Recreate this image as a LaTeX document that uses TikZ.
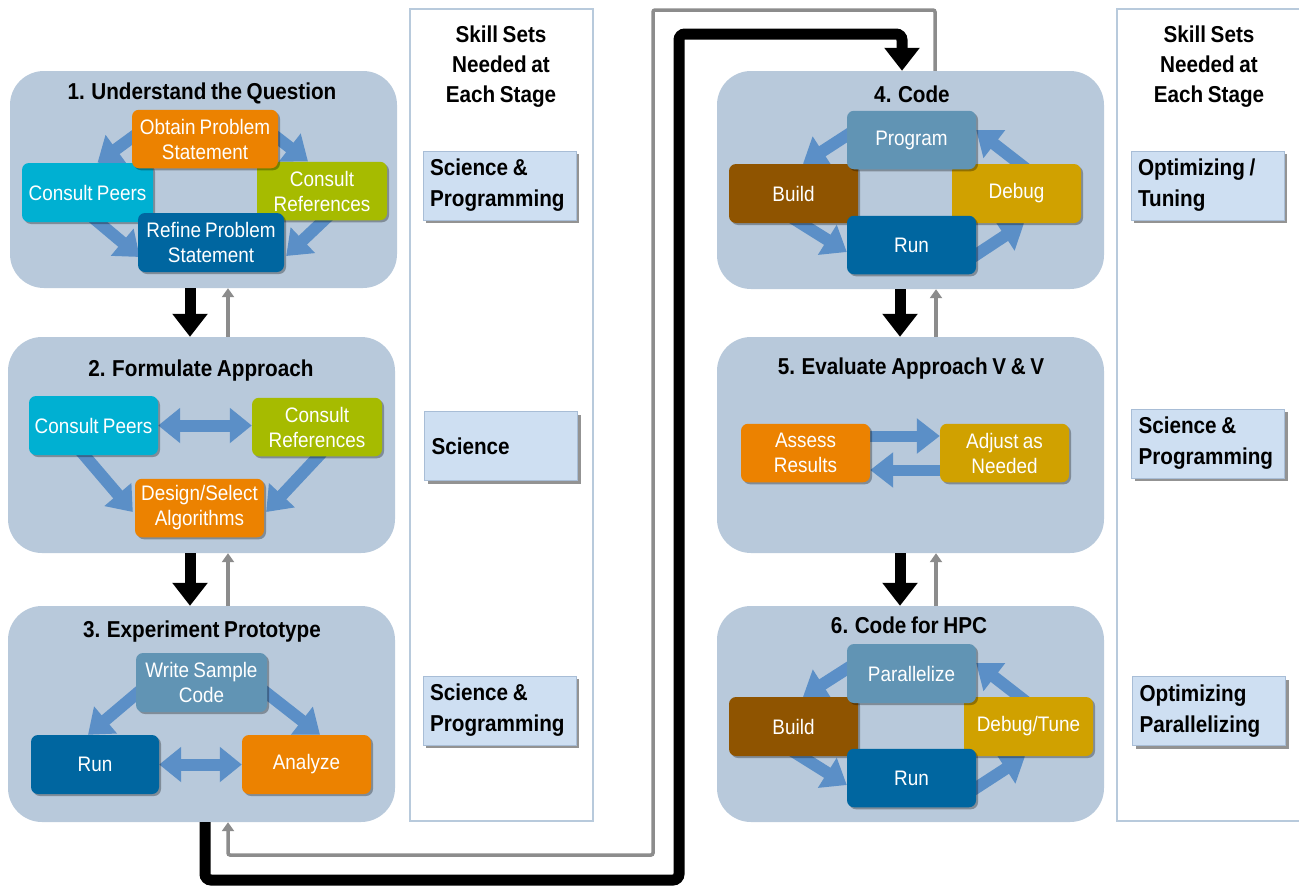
\documentclass[tikz,border=0pt]{standalone}
\usepackage{fontspec}
\setmainfont{Liberation Sans}[FakeStretch=0.9, WordSpace=0.8]
\usetikzlibrary{arrows.meta,shadows}

\definecolor{stagebg}{HTML}{B8C9DB}
\definecolor{arrowblue}{HTML}{5B8FC7}
\definecolor{cOrange}{HTML}{EC8200}
\definecolor{cCyan}{HTML}{00B0D2}
\definecolor{cGreen}{HTML}{A6BB00}
\definecolor{cDark}{HTML}{0066A0}
\definecolor{cSteel}{HTML}{6194B4}
\definecolor{cBrown}{HTML}{8F5400}
\definecolor{cGold}{HTML}{D0A100}
\definecolor{skillbg}{HTML}{CEDFF2}
\definecolor{skillborder}{HTML}{A8BDD6}
\definecolor{colborder}{HTML}{B8CADC}
\definecolor{backgrey}{HTML}{8C8C8C}

\pgfdeclarelayer{bg}
\pgfdeclarelayer{mid}
\pgfsetlayers{bg,mid,main}

\begin{document}
\begin{tikzpicture}[x=1pt,y=-1pt,
  stagebox/.style={fill=stagebg, rounded corners=34pt, draw=none, inner sep=0pt,
    minimum width=387pt, minimum height=216pt},
  steptitle/.style={font=\bfseries\fontsize{23}{28}\selectfont, anchor=base, inner sep=0pt},
  ibox/.style={rounded corners=7pt, text=white, align=center,
    font=\fontsize{21}{25}\selectfont, inner sep=0pt,
    minimum width=129pt, minimum height=58.5pt,
    drop shadow={shadow xshift=2pt, shadow yshift=-2pt, opacity=0.3, fill=black}},
  fat/.style={draw=arrowblue, line width=12pt, -{Triangle[width=34pt,length=23pt]}},
  fatboth/.style={draw=arrowblue, line width=12pt,
    {Triangle[width=34pt,length=22pt]}-{Triangle[width=34pt,length=22pt]}},
  flow/.style={draw=black, line width=11pt, -{Triangle[width=34pt,length=23pt]}},
  back/.style={draw=backgrey, line width=3.5pt, -{Triangle[width=12pt,length=9pt]}},
  column/.style={draw=colborder, line width=2pt, fill=white},
  header/.style={font=\bfseries\fontsize{23}{30}\selectfont, align=center, anchor=base, inner sep=0pt},
  skill/.style={fill=skillbg, draw=skillborder, line width=1pt,
    font=\bfseries\fontsize{23}{31}\selectfont, align=flush left,
    inner xsep=7pt, inner ysep=0pt, text width=139pt, minimum height=69pt,
    drop shadow={shadow xshift=3pt, shadow yshift=-3pt, opacity=0.6, fill=black!70}}
]
\useasboundingbox (0,0) rectangle (1299,886);

% ---------- page and skill set columns ----------
\begin{pgfonlayer}{bg}
  \fill[white] (0,0) rectangle (1299,886);
  \draw[column] (410,9) rectangle (593,821);
  \draw[column] (1117,9) rectangle (1320,821);
\end{pgfonlayer}
% the base anchor of a multi-line node is the baseline of its last line
\node[header] (hl) at (501,102) {Skill Sets\\Needed at\\Each Stage};
\node[header] (hr) at (1209,102) {Skill Sets\\Needed at\\Each Stage};

\node[skill] (l1) at (499.5,185.5) {Science \&\\Programming};
\node[skill] (l2) at (501,446) {Science};
\node[skill] (l3) at (499.5,710.5) {Science \&\\Programming};
\node[skill] (r1) at (1207.5,185.5) {Optimizing /\\Tuning};
\node[skill] (r2) at (1208,443.5) {Science \&\\Programming};
\node[skill] (r3) at (1209,711) {Optimizing\\Parallelizing};

% ---------- stage containers ----------
\begin{pgfonlayer}{bg}
  \node[stagebox, minimum height=217pt] (st1) at (203.5,179.5) {};
  \node[stagebox] (st2) at (201.5,445) {};
  \node[stagebox] (st3) at (201.5,714) {};
  \node[stagebox, minimum height=218pt] (st4) at (910.5,180) {};
  \node[stagebox] (st5) at (910.5,445) {};
  \node[stagebox] (st6) at (910.5,714) {};
\end{pgfonlayer}

\node[steptitle] (t1) at (202,99) {1. Understand the Question};
\node[steptitle] (t2) at (201,376) {2. Formulate Approach};
\node[steptitle] (t3) at (202,637) {3. Experiment Prototype};
\node[steptitle] (t4) at (912,102) {4. Code};
\node[steptitle] (t5) at (911,374) {5. Evaluate Approach V \& V};
\node[steptitle] (t6) at (909,633) {6. Code for HPC};

% ---------- stage 1 ----------
\node[ibox, fill=cCyan, minimum width=131pt, minimum height=59pt] (s1cp) at (87.5,192.5) {Consult Peers};
\node[ibox, fill=cGreen, minimum width=130pt] (s1ref) at (322,191) {Consult\\References};
\node[ibox, fill=cOrange, minimum width=146pt] (s1obt) at (205,139) {Obtain Problem\\Statement};
\node[ibox, fill=cDark, minimum width=146pt, minimum height=59pt] (s1rfn) at (211,242.5) {Refine Problem\\Statement};

% ---------- stage 2 ----------
\node[ibox, fill=cCyan, minimum height=59pt] (s2cp) at (93.5,425.5) {Consult Peers};
\node[ibox, fill=cGreen, minimum width=130pt] (s2ref) at (317,427) {Consult\\References};
\node[ibox, fill=cOrange] (s2alg) at (199.5,508) {Design/Select\\Algorithms};

% ---------- stage 3 ----------
\node[ibox, fill=cSteel, minimum width=131pt, minimum height=59pt] (s3wsc) at (201.5,682.5) {Write Sample\\Code};
\node[ibox, fill=cDark, minimum width=128pt, minimum height=59pt] (s3run) at (95,764.5) {Run};
\node[ibox, fill=cOrange, minimum height=59pt] (s3ana) at (306.5,764.5) {Analyze};

% ---------- stage 4 ----------
\node[ibox, fill=cBrown, minimum height=59pt] (s4bld) at (793.5,193.5) {Build};
\node[ibox, fill=cGold, minimum height=59pt] (s4dbg) at (1016.5,193.5) {Debug};
\node[ibox, fill=cSteel] (s4prg) at (911.5,140) {Program};
\node[ibox, fill=cDark] (s4run) at (911.5,245) {Run};

% ---------- stage 5 ----------
\node[ibox, fill=cOrange] (s5ass) at (805.5,453) {Assess\\Results};
\node[ibox, fill=cGold] (s5adj) at (1004.5,453) {Adjust as\\Needed};

% ---------- stage 6 ----------
\node[ibox, fill=cBrown, minimum height=59pt] (s6bld) at (793.5,726.5) {Build};
\node[ibox, fill=cGold, minimum height=59pt] (s6dbg) at (1028.5,726.5) {Debug/Tune};
\node[ibox, fill=cSteel, minimum height=59pt] (s6par) at (911.5,673.5) {Parallelize};
\node[ibox, fill=cDark] (s6run) at (911.5,778) {Run};

% ---------- cycle arrows inside the stages ----------
% (xshift/yshift are canvas shifts: a positive yshift moves up)
\begin{pgfonlayer}{mid}
  % stage 1
  \draw[fat] ([shift={(18,15)}]s1obt.north west) -- ([xshift=10]s1cp.north);
  \draw[fat] ([shift={(-18,15)}]s1obt.north east) -- ([xshift=-14]s1ref.north);
  \draw[fat] ([shift={(2.5,-7)}]s1cp.south) -- ([shift={(2,14.5)}]s1rfn.west);
  \draw[fat] ([shift={(8,-6)}]s1ref.south) -- ([shift={(2,13.5)}]s1rfn.east);
  % stage 2
  \draw[fatboth] (s2cp.east) -- (s2cp.east -| s2ref.west);
  \draw[fat] ([shift={(-13.5,-5)}]s2cp.south) -- ([shift={(-2,4)}]s2alg.west);
  \draw[fat] ([shift={(5,-4)}]s2ref.south) -- ([shift={(2,4)}]s2alg.east);
  % stage 3
  \draw[fat] ([xshift=14]s3wsc.west) -- ([xshift=-7]s3run.north);
  \draw[fat] ([xshift=-14]s3wsc.east) -- ([xshift=13.5]s3ana.north);
  \draw[fatboth] (s3run.east) -- (s3ana.west);
  % stage 4
  \draw[fat] ([shift={(13,-13)}]s4prg.west) -- ([xshift=9.5]s4bld.north);
  \draw[fat] ([shift={(-5.5,-8)}]s4bld.south) -- ([yshift=-7]s4run.west);
  \draw[fat] ([shift={(-11,17)}]s4run.east) -- ([xshift=7.5]s4dbg.south);
  \draw[fat] ([shift={(13.5,8)}]s4dbg.north) -- ([yshift=10]s4prg.east);
  % stage 5
  \draw[fat, line width=11pt] ([yshift=17]s5ass.east) -- ([yshift=17]s5adj.west);
  \draw[fat, line width=11pt] ([yshift=-17]s5adj.west) -- ([yshift=-17]s5ass.east);
  % stage 6
  \draw[fat] ([shift={(13,-13)}]s6par.west) -- ([xshift=9.5]s6bld.north);
  \draw[fat] ([shift={(-5.5,-8)}]s6bld.south) -- ([yshift=-7]s6run.west);
  \draw[fat] ([shift={(-11,17)}]s6run.east) -- ([xshift=-3.5]s6dbg.south);
  \draw[fat] ([shift={(1.5,8)}]s6dbg.north) -- ([yshift=10.5]s6par.east);
\end{pgfonlayer}

% ---------- flow between stages ----------
\draw[flow] ([xshift=-13.5]st1.south) -- ([xshift=-11.5]st2.north);
\draw[back] ([xshift=26.5]st2.north) -- ([xshift=24.5]st1.south);
\draw[flow] ([xshift=-11.5]st2.south) -- ([xshift=-11.5]st3.north);
\draw[back] ([xshift=26.5]st3.north) -- ([xshift=26.5]st2.south);

\draw[flow] ([xshift=-10.5]st4.south) -- ([xshift=-10.5]st5.north);
\draw[back] ([xshift=25.5]st5.north) -- ([xshift=25.5]st4.south);
\draw[flow] ([xshift=-10.5]st5.south) -- ([xshift=-10.5]st6.north);
\draw[back] ([xshift=25.5]st6.north) -- ([xshift=25.5]st5.south);

% long hand-over from stage 3 to stage 4, and the way back
\draw[flow, rounded corners=6pt] ([xshift=3.5]st3.south) |- (679,880) -- (679,34) -| ([xshift=-8.5]st4.north);
\draw[back, rounded corners=2pt] ([xshift=24.5]st4.north) |- (653,10) -- (653,855) -| ([xshift=26.5]st3.south);

\end{tikzpicture}
\end{document}
